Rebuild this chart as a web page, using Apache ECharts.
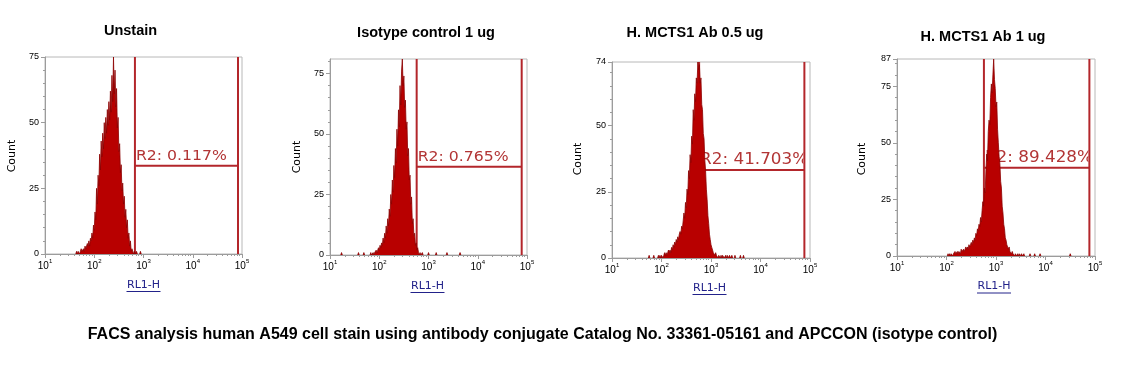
<!DOCTYPE html>
<html><head><meta charset="utf-8">
<script src="https://cdn.jsdelivr.net/npm/echarts@6/dist/echarts.min.js"></script>
<style>html,body{margin:0;padding:0;background:#fff}#c{width:1139px;height:367px}</style>
</head><body><div id="c"></div><script>
// ---------------- DATA ----------------
const panelTitles = ['Unstain', 'Isotype control 1 ug', 'H. MCTS1 Ab 0.5 ug', 'H. MCTS1 Ab 1 ug'];
const xAxisName = 'RL1-H';
const yAxisName = 'Count';
const caption = 'FACS analysis human A549 cell stain using antibody conjugate Catalog No. 33361-05161 and APCCON (isotype control)';

const xMin = 10, xMax = 100000;
const xMajorTicks = [10, 100, 1000, 10000, 100000];
const channelsPerDecade = 64;           // histogram channel resolution, channel 0 = 10^1
const yMaxes = [75, 81, 74, 87];
const yTickLabels = [[0, 25, 50, 75], [0, 25, 50, 75], [0, 25, 50, 74], [0, 25, 50, 75, 87]];

// histogram counts per channel (first channel index, then counts)
const unstainStart = 40;
const unstainCounts = [0,1,0,1,1,0,1,2,1,1, 2,1,3,2,2,4,3,5,3,6, 5,8,6,11,9,16,13,25,19,30,
  26,38,32,43,37,46,40,50,44,52, 46,55,49,58,51,62,54,68,58,75, 61,70,56,63,48,52,39,42,31,34,
  24,27,19,22,14,17,10,13,6,8, 3,5,1,2,1,0,1,0,0,1, 0];
const unstainSparse = [124];

const isotypeStart = 52;
const isotypeCounts = [0,1,0,0,1,0,1,1,2,1, 2,3,2,4,3,5,4,7,5,9, 7,12,9,15,12,19,16,25,21,31,
  26,37,32,44,38,52,45,60,53,70, 62,76,81,70,74,61,64,52,55,41, 44,31,33,21,24,13,15,8,9,4,
  5,2,3,1,0,1,0,0,1];
const isotypeSparse = [15, 37, 44, 128, 138, 152, 169];

const mcts05Start = 60;
const mcts05Counts = [1,0,1,0,1,1,0,1,2,1, 2,1,2,3,2,3,2,4,3,5, 4,6,5,7,6,8,7,9,10,9,
  12,11,14,17,15,21,19,26,24,33, 30,39,36,46,43,56,52,62,59,68, 66,74,71,73,66,68,58,56,47,45,
  37,33,26,22,16,13,9,7,5,4, 3,2,2,1,2,1,1,0,1,1, 0,1,0,1,1,0,0,1,0,1, 0,0,1,0,0,1,0,0,0,1,0];
const mcts05Sparse = [48, 54, 166, 170];

const mcts1Start = 66;
const mcts1Counts = [1,0,1,0,1,1,0,1,1,2, 1,1,2,1,2,2,1,3,2,2, 3,2,3,4,3,4,3,5,4,5,
  6,5,7,6,8,7,10,9,12,11, 14,13,17,15,20,24,22,30,28,38, 45,42,55,60,58,70,76,72,80,87,
  78,74,66,68,56,50,44,41,33,30, 22,19,14,12,8,7,5,4,3,4, 2,2,1,2,1,1,0,1,1,0, 1,0,1,0,0,1,0,0,1,0];
const mcts1Sparse = [172, 178, 185, 224];

// R2 gates
const gateLow = [670, 575, 575, 570];
const gateHigh = [83000, 78000, 77000, 77000];
const gateLevel = [33.6, 36.5, 33.2, 39];
const gateLabels = ['R2: 0.117%', 'R2: 0.765%', 'R2: 41.703%', 'R2: 89.428%'];

// ---------------- LAYOUT / STYLE ----------------
const grids = [
  {left: 45, top: 57, width: 197, height: 197},
  {left: 330, top: 59, width: 197, height: 196},
  {left: 612, top: 62, width: 198, height: 196},
  {left: 897, top: 59, width: 198, height: 197}
];
const titlePos = [[130.5, 31], [426, 33], [695, 33], [983, 37]];
const countPos = [[12, 156], [297, 157], [578, 159], [862, 159]];
const xNamePos = [[143.5, 285], [427.5, 286], [709.5, 288], [994, 286.5]];
const gateFontSize = [14, 14, 15, 15];
const histFill = '#b80000', histLine = '#8c0000';
const gateColor = '#b3262b', gateTextColor = '#b23535';
const axisGrey = '#9c9c9c';

const panels = [
  {start: unstainStart, counts: unstainCounts, sparse: unstainSparse},
  {start: isotypeStart, counts: isotypeCounts, sparse: isotypeSparse},
  {start: mcts05Start, counts: mcts05Counts, sparse: mcts05Sparse},
  {start: mcts1Start, counts: mcts1Counts, sparse: mcts1Sparse}
];

function buildSeriesData(p) {
  const n = 4 * channelsPerDecade;
  const full = new Array(n + 1).fill(0);
  p.counts.forEach((v, i) => { full[p.start + i] = v; });
  p.sparse.forEach(c => { full[c] = Math.max(full[c], 1); });
  const out = [];
  for (let c = 0; c <= n; c++) {
    const x = Math.pow(10, 1 + c / channelsPerDecade);
    const keep = full[c] > 0 || (c > 0 && full[c - 1] > 0) || (c < n && full[c + 1] > 0);
    out.push([x, keep ? full[c] : null]);
  }
  return out;
}

const xMinor = [];
for (let k = 1; k < 5; k++) for (let d = 2; d <= 9; d++) xMinor.push(d * Math.pow(10, k));

const xAxes = [], yAxes = [], series = [], graphics = [];
grids.forEach((g, i) => {
  const ymax = yMaxes[i];
  const yMinor = [];
  for (let v = 5; v < ymax; v += 5) if (v % 25 !== 0) yMinor.push(v);
  xAxes.push({
    type: 'log', logBase: 10, gridIndex: i, min: xMin, max: xMax, position: 'bottom',
    axisLine: {show: true, lineStyle: {color: axisGrey, width: 1}},
    axisTick: {show: true, length: 4, customValues: xMajorTicks, lineStyle: {color: axisGrey}},
    axisLabel: {
      customValues: xMajorTicks, margin: 4, color: '#000',
      formatter: v => '{b|10}{s|' + Math.round(Math.log10(v)) + '}',
      rich: {
        b: {fontFamily: 'Liberation Sans', fontSize: 10, lineHeight: 13, verticalAlign: 'bottom', color: '#000'},
        s: {fontFamily: 'Liberation Sans', fontSize: 6, lineHeight: 7, verticalAlign: 'top', color: '#000'}
      }
    },
    splitLine: {show: false}, minorTick: {show: false}
  });
  xAxes.push({
    type: 'log', logBase: 10, gridIndex: i, min: xMin, max: xMax, position: 'bottom',
    axisLine: {show: false},
    axisTick: {show: true, length: 2, customValues: xMinor, lineStyle: {color: axisGrey}},
    axisLabel: {show: false}, splitLine: {show: false}
  });
  yAxes.push({
    type: 'value', gridIndex: i, min: 0, max: ymax, position: 'left',
    axisLine: {show: true, lineStyle: {color: axisGrey, width: 1}},
    axisTick: {show: true, length: 4, customValues: yTickLabels[i], lineStyle: {color: axisGrey}},
    axisLabel: {customValues: yTickLabels[i], margin: 6, color: '#000', fontFamily: 'Liberation Sans', fontSize: 9},
    splitLine: {show: false}
  });
  yAxes.push({
    type: 'value', gridIndex: i, min: 0, max: ymax, position: 'left',
    axisLine: {show: false},
    axisTick: {show: true, length: 2, customValues: yMinor, lineStyle: {color: axisGrey}},
    axisLabel: {show: false}, splitLine: {show: false}
  });
  series.push({
    type: 'line', xAxisIndex: 2 * i, yAxisIndex: 2 * i,
    data: buildSeriesData(panels[i]), symbol: 'none', showSymbol: false, connectNulls: false,
    lineStyle: {color: histLine, width: 0.8}, areaStyle: {color: histFill, opacity: 1},
    silent: true, animation: false
  });
  series.push({
    type: 'custom', xAxisIndex: 2 * i, yAxisIndex: 2 * i,
    data: [[gateLow[i], gateHigh[i], gateLevel[i], ymax]],
    dimensions: ['lo', 'hi', 'lvl', 'top'],
    encode: {x: [0, 1], y: [2, 3]},
    silent: true, animation: false,
    renderItem: (params, api) => {
      const lo = api.value(0), hi = api.value(1), lvl = api.value(2), top = api.value(3);
      const a = api.coord([lo, 0]), b = api.coord([lo, top]);
      const c = api.coord([hi, 0]), d = api.coord([hi, top]);
      const l = api.coord([lo, lvl]), r = api.coord([hi, lvl]);
      const st = {stroke: gateColor, lineWidth: 2};
      return {type: 'group', children: [
        {type: 'group', clipPath: {type: 'rect', shape: {x: l[0], y: b[1], width: r[0] - l[0] - 1, height: a[1] - b[1]}},
          children: [{type: 'text', x: l[0] + 1, y: l[1] - 2, scaleX: 1.12,
            style: {text: gateLabels[i], font: gateFontSize[i] + 'px "DejaVu Sans"', fill: gateTextColor,
              align: 'left', verticalAlign: 'bottom', textAlign: 'left', textVerticalAlign: 'bottom'}}]},
        {type: 'line', shape: {x1: a[0], y1: a[1], x2: b[0], y2: b[1]}, style: st},
        {type: 'line', shape: {x1: c[0], y1: c[1], x2: d[0], y2: d[1]}, style: st},
        {type: 'line', shape: {x1: l[0], y1: l[1], x2: r[0], y2: r[1]}, style: st}
      ]};
    }
  });
  graphics.push({type: 'text', x: titlePos[i][0], y: titlePos[i][1],
    style: {text: panelTitles[i], font: 'bold 14.5px "Liberation Sans"', fill: '#000',
      align: 'center', verticalAlign: 'middle', textAlign: 'center', textVerticalAlign: 'middle'}});
  graphics.push({type: 'text', x: countPos[i][0], y: countPos[i][1], rotation: Math.PI / 2,
    style: {text: yAxisName, font: '11px "DejaVu Sans"', fill: '#000',
      align: 'center', verticalAlign: 'middle', textAlign: 'center', textVerticalAlign: 'middle'}});
  graphics.push({type: 'text', x: xNamePos[i][0], y: xNamePos[i][1],
    style: {text: xAxisName, font: '11px "DejaVu Sans"', fill: '#22228a',
      align: 'center', verticalAlign: 'middle', textAlign: 'center', textVerticalAlign: 'middle'}});
  graphics.push({type: 'line', shape: {x1: xNamePos[i][0] - 17, y1: xNamePos[i][1] + 6.5, x2: xNamePos[i][0] + 17, y2: xNamePos[i][1] + 6.5},
    style: {stroke: '#22228a', lineWidth: 1}});
});
graphics.push({type: 'text', x: 542.5, y: 335,
  style: {text: caption, font: 'bold 16px "Liberation Sans"', fill: '#000',
    align: 'center', verticalAlign: 'middle', textAlign: 'center', textVerticalAlign: 'middle'}});

const chart = echarts.init(document.getElementById('c'), null, {renderer: 'canvas'});
chart.setOption({
  animation: false,
  backgroundColor: '#fff',
  grid: grids.map(g => Object.assign({show: true, borderColor: '#b8b8b8', borderWidth: 1, backgroundColor: 'transparent', containLabel: false}, g)),
  xAxis: xAxes, yAxis: yAxes, series: series, graphic: graphics
});
</script></body></html>
